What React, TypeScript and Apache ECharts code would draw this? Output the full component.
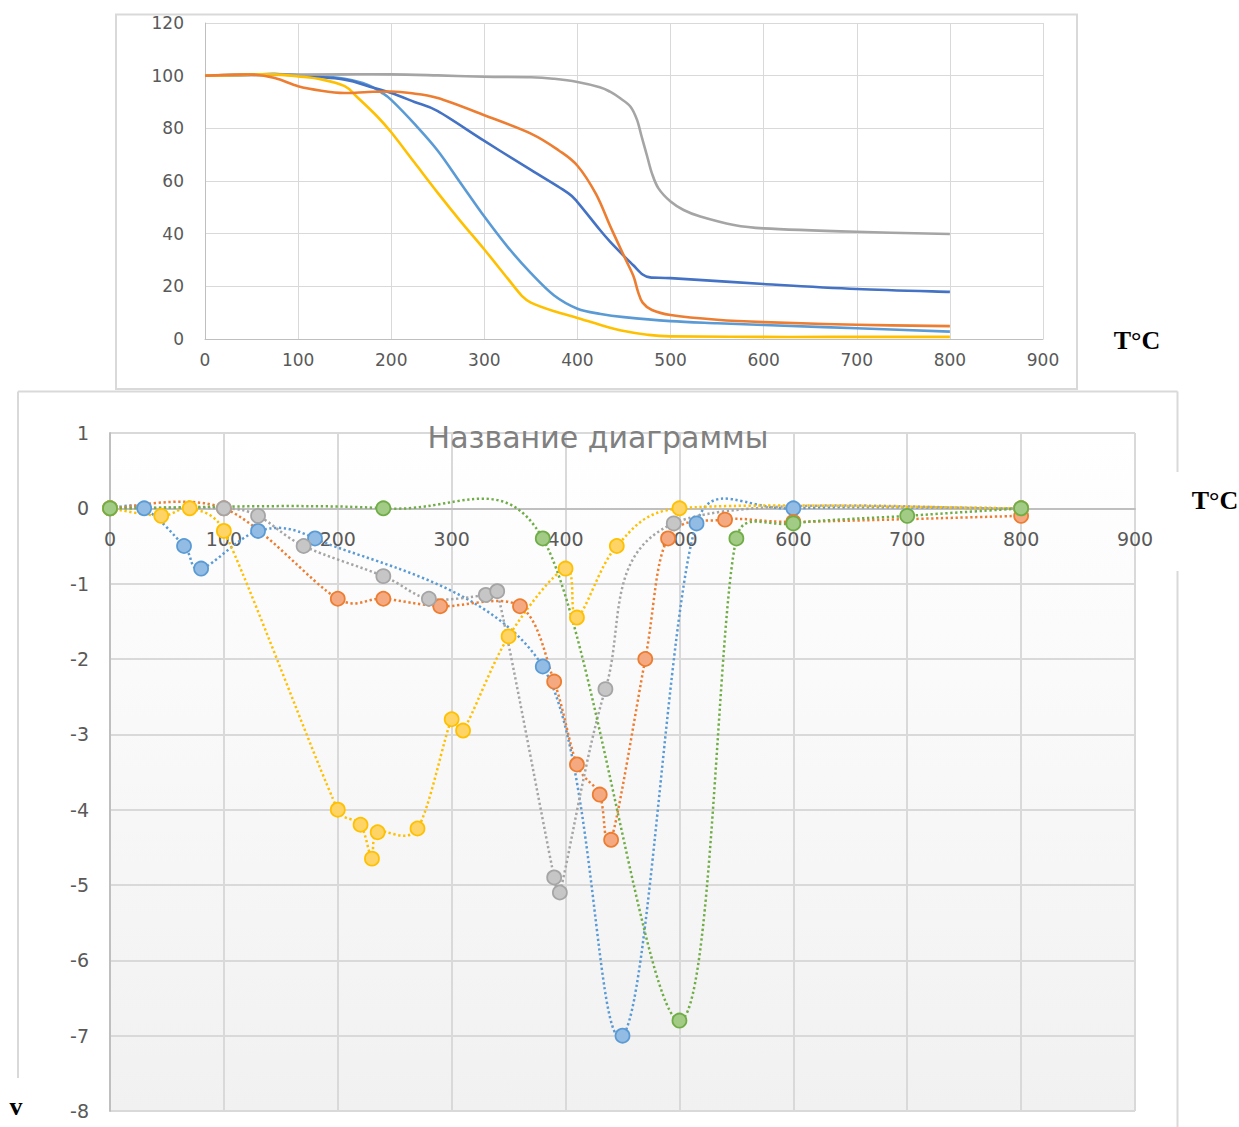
import React, { useEffect, useRef } from "react";
import * as echarts from "echarts";

// ---------- Top chart (TGA, %) ----------
const tgaLightBlueT = [0, 50, 75, 100, 125, 150, 175, 190, 200, 226, 250, 275, 300, 325, 350, 375, 400, 425, 450, 500, 550, 600, 700, 800];
const tgaLightBlueV = [100, 100.4, 100.6, 100.2, 99.6, 98.8, 96.5, 93.5, 90.8, 81.3, 71.5, 59, 46.5, 35, 25, 16.5, 11.5, 9.5, 8.3, 6.8, 6.0, 5.3, 4.1, 2.8];

const tgaDarkBlueT = [0, 50, 75, 100, 150, 177, 200, 225, 250, 300, 350, 390, 400, 424, 435, 450, 460, 470, 478, 500, 600, 700, 800];
const tgaDarkBlueV = [100, 100.4, 100.6, 100.1, 98.5, 95.8, 93.4, 90, 86.5, 75.2, 64.2, 55.4, 52, 41.5, 37, 31.5, 28, 24.5, 23.4, 23.1, 20.9, 19, 17.9];

const tgaOrangeT = [0, 50, 75, 100, 125, 150, 175, 200, 220, 250, 300, 350, 380, 400, 420, 435, 450, 460, 465, 470, 480, 500, 550, 600, 700, 800];
const tgaOrangeV = [100, 100.4, 99.1, 96, 94.3, 93.4, 93.8, 94, 93.4, 91.5, 85, 78, 71.6, 65.8, 55, 43, 31.5, 24, 18, 13.8, 11, 9.1, 7.3, 6.4, 5.4, 4.9];

const tgaGrayT = [0, 50, 100, 150, 200, 250, 300, 350, 375, 400, 424, 435, 446, 457, 464, 469, 475, 480, 487, 500, 514, 532, 568, 600, 700, 800];
const tgaGrayV = [100, 100.2, 100.4, 100.5, 100.5, 100.1, 99.6, 99.4, 98.8, 97.6, 95.6, 93.9, 91.4, 88.2, 83.2, 76.8, 69.2, 62.9, 57.2, 52.2, 49, 46.5, 43.3, 42, 40.7, 39.9];

const tgaYellowT = [0, 50, 75, 100, 125, 150, 163, 185, 200, 225, 250, 275, 300, 325, 340, 350, 375, 400, 425, 450, 475, 500, 600, 700, 800];
const tgaYellowV = [100, 100.4, 100.5, 99.7, 98.6, 96, 92, 84.5, 78.5, 67, 55.5, 44.5, 34, 23, 16.5, 13.8, 10.5, 8, 5.3, 3, 1.6, 1, 0.8, 0.8, 0.8];

// ---------- Bottom chart (DTG) ----------
const dtgBlueT = [0, 30, 65, 80, 130, 180, 380, 450, 515, 600, 800];
const dtgBlueV = [0, 0, -0.5, -0.8, -0.3, -0.4, -2.1, -7.0, -0.2, 0, 0];

const dtgOrangeT = [0, 100, 200, 240, 290, 360, 390, 410, 430, 440, 470, 490, 540, 600, 800];
const dtgOrangeV = [0, 0, -1.2, -1.2, -1.3, -1.3, -2.3, -3.4, -3.8, -4.4, -2.0, -0.4, -0.15, -0.18, -0.1];

const dtgGrayT = [0, 100, 130, 170, 240, 280, 330, 340, 390, 395, 435, 495, 800];
const dtgGrayV = [0, 0, -0.1, -0.5, -0.9, -1.2, -1.15, -1.1, -4.9, -5.1, -2.4, -0.2, 0];

const dtgYellowT = [0, 45, 70, 100, 200, 220, 230, 235, 270, 300, 310, 350, 400, 410, 445, 500, 800];
const dtgYellowV = [0, -0.1, 0, -0.3, -4.0, -4.2, -4.65, -4.3, -4.25, -2.8, -2.95, -1.7, -0.8, -1.45, -0.5, 0, 0];

const dtgGreenT = [0, 240, 380, 500, 550, 600, 700, 800];
const dtgGreenV = [0, 0, -0.4, -6.8, -0.4, -0.2, -0.1, 0];

const xTicks = [0, 100, 200, 300, 400, 500, 600, 700, 800, 900];

const zip = (xs: number[], ys: number[]) => xs.map((x, i) => [x, ys[i]]);

const labelFont = "DejaVu Sans";

// Excel-like smoothing: Bezier handles = (next - prev) / 6, limited to half the segment length.
function smoothPath(pts: number[][]) {
  const n = pts.length;
  let d = `M${pts[0][0]},${pts[0][1]}`;
  const limit = (vx: number, vy: number, maxLen: number) => {
    const len = Math.sqrt(vx * vx + vy * vy);
    if (len > maxLen && len > 0) {
      const k = maxLen / len;
      return [vx * k, vy * k];
    }
    return [vx, vy];
  };
  for (let i = 0; i < n - 1; i++) {
    const p0 = pts[Math.max(0, i - 1)];
    const p1 = pts[i];
    const p2 = pts[i + 1];
    const p3 = pts[Math.min(n - 1, i + 2)];
    const seg = Math.hypot(p2[0] - p1[0], p2[1] - p1[1]);
    const t1 = limit((p2[0] - p0[0]) / 6, (p2[1] - p0[1]) / 6, seg / 2);
    const t2 = limit((p3[0] - p1[0]) / 6, (p3[1] - p1[1]) / 6, seg / 2);
    d += ` C${p1[0] + t1[0]},${p1[1] + t1[1]} ${p2[0] - t2[0]},${p2[1] - t2[1]} ${p2[0]},${p2[1]}`;
  }
  return d;
}

function curveSeries(name: string, axisIndex: number, color: string, xs: number[], ys: number[], dotted: boolean) {
  return {
    name,
    type: "custom",
    xAxisIndex: axisIndex,
    yAxisIndex: axisIndex,
    coordinateSystem: "cartesian2d",
    data: zip(xs, ys),
    encode: { x: 0, y: 1 },
    silent: true,
    renderItem: (params: any, api: any) => {
      if (params.dataIndex !== 0) return null;
      const pts = xs.map((x, i) => api.coord([x, ys[i]]));
      return {
        type: "path",
        shape: { pathData: smoothPath(pts) },
        style: dotted
          ? { fill: "none", stroke: color, lineWidth: 2.5, lineDash: [2.3, 2.6], lineCap: "butt" }
          : { fill: "none", stroke: color, lineWidth: 2.6, lineJoin: "round" },
      };
    },
  };
}

function dtgMarkers(name: string, color: string, fill: string, xs: number[], ys: number[]) {
  return {
    name,
    type: "scatter",
    xAxisIndex: 1,
    yAxisIndex: 1,
    data: zip(xs, ys),
    symbol: "circle",
    symbolSize: 14,
    itemStyle: { color: fill, borderColor: color, borderWidth: 1.8, opacity: 1 },
  };
}

export default function App() {
  const ref = useRef<HTMLDivElement>(null);
  useEffect(() => {
    if (!ref.current) return;
    const chart = echarts.init(ref.current, null, { renderer: "svg" });
    const gradient = new echarts.graphic.LinearGradient(0, 0, 0, 1, [
      { offset: 0, color: "#ffffff" },
      { offset: 1, color: "#f1f1f1" },
    ]);
    const dtgDefs = [
      { n: "1", c: "#5b9bd5", f: "#93bce4", x: dtgBlueT, y: dtgBlueV },
      { n: "2", c: "#ed7d31", f: "#f4a981", x: dtgOrangeT, y: dtgOrangeV },
      { n: "3", c: "#a5a5a5", f: "#c6c6c6", x: dtgGrayT, y: dtgGrayV },
      { n: "4", c: "#ffc000", f: "#ffd466", x: dtgYellowT, y: dtgYellowV },
      { n: "5", c: "#70ad47", f: "#a2cb86", x: dtgGreenT, y: dtgGreenV },
    ];
    const dtgSeries: any[] = [];
    dtgDefs.forEach((s) => {
      dtgSeries.push(curveSeries(s.n + " curve", 1, s.c, s.x, s.y, true));
      dtgSeries.push(dtgMarkers(s.n, s.c, s.f, s.x, s.y));
    });
    const bottomTop = 433;
    const bottomH = 678;
    const zeroOffset = -(bottomH * (8 / 9));
    const option: any = {
      animation: false,
      backgroundColor: "#ffffff",
      grid: [
        { left: 205, top: 23, width: 838, height: 316, outerBoundsMode: "none", containLabel: false },
        {
          left: 110,
          top: bottomTop,
          width: 1025,
          height: bottomH,
          show: true,
          backgroundColor: gradient,
          borderWidth: 0,
          outerBoundsMode: "none",
          containLabel: false,
        },
      ],
      xAxis: [
        {
          gridIndex: 0,
          type: "value",
          min: xTicks[0],
          max: xTicks[xTicks.length - 1],
          interval: 100,
          axisLine: { show: true, lineStyle: { color: "#bfbfbf", width: 1 } },
          axisTick: { show: false },
          splitLine: { show: true, lineStyle: { color: "#d9d9d9", width: 1 } },
          axisLabel: { color: "#595959", fontSize: 17, fontFamily: labelFont, margin: 12 },
        },
        {
          gridIndex: 1,
          type: "value",
          min: xTicks[0],
          max: xTicks[xTicks.length - 1],
          interval: 100,
          offset: zeroOffset,
          axisLine: { show: true, onZero: false, lineStyle: { color: "#bfbfbf", width: 2 } },
          axisTick: { show: false },
          splitLine: { show: true, lineStyle: { color: "#d9d9d9", width: 2 } },
          axisLabel: { color: "#595959", fontSize: 19, fontFamily: labelFont, margin: 21 },
        },
      ],
      yAxis: [
        {
          gridIndex: 0,
          type: "value",
          min: 0,
          max: 120,
          interval: 20,
          axisLine: { show: true, lineStyle: { color: "#bfbfbf", width: 1 } },
          axisTick: { show: false },
          splitLine: { show: true, lineStyle: { color: "#d9d9d9", width: 1 } },
          axisLabel: { color: "#595959", fontSize: 17, fontFamily: labelFont, margin: 21 },
        },
        {
          gridIndex: 1,
          type: "value",
          min: -8,
          max: 1,
          interval: 1,
          axisLine: { show: true, lineStyle: { color: "#bfbfbf", width: 2 } },
          axisTick: { show: false },
          splitLine: { show: true, lineStyle: { color: "#d9d9d9", width: 2 } },
          axisLabel: { color: "#595959", fontSize: 19, fontFamily: labelFont, margin: 21 },
        },
      ],
      series: [
        curveSeries("A", 0, "#5b9bd5", tgaLightBlueT, tgaLightBlueV, false),
        curveSeries("B", 0, "#4472c4", tgaDarkBlueT, tgaDarkBlueV, false),
        curveSeries("C", 0, "#a5a5a5", tgaGrayT, tgaGrayV, false),
        curveSeries("D", 0, "#ffc000", tgaYellowT, tgaYellowV, false),
        curveSeries("E", 0, "#ed7d31", tgaOrangeT, tgaOrangeV, false),
        ...dtgSeries,
      ],
      graphic: [
        {
          type: "rect",
          z: 100,
          silent: true,
          shape: { x: 116, y: 14.5, width: 961, height: 374.5 },
          style: { fill: "none", stroke: "#d9d9d9", lineWidth: 2 },
        },
        { type: "line", z: 100, silent: true, shape: { x1: 18, y1: 391.5, x2: 1177.5, y2: 391.5 }, style: { stroke: "#d9d9d9", lineWidth: 2 } },
        { type: "line", z: 100, silent: true, shape: { x1: 18, y1: 391.5, x2: 18, y2: 1078 }, style: { stroke: "#d9d9d9", lineWidth: 2 } },
        { type: "line", z: 100, silent: true, shape: { x1: 1177.5, y1: 391.5, x2: 1177.5, y2: 472 }, style: { stroke: "#d9d9d9", lineWidth: 2 } },
        { type: "line", z: 100, silent: true, shape: { x1: 1177.5, y1: 571, x2: 1177.5, y2: 1127 }, style: { stroke: "#d9d9d9", lineWidth: 2 } },
        {
          type: "text",
          z: 100,
          x: 598,
          y: 437,
          style: { text: "Название диаграммы", fill: "#808080", font: '30px "DejaVu Sans"', align: "center", verticalAlign: "middle" },
        },
        {
          type: "text",
          z: 100,
          x: 1137,
          y: 340,
          style: { text: "T°C", fill: "#000000", font: 'bold 26px "Liberation Serif"', align: "center", verticalAlign: "middle" },
        },
        {
          type: "text",
          z: 100,
          x: 1215,
          y: 500,
          style: { text: "T°C", fill: "#000000", font: 'bold 26px "Liberation Serif"', align: "center", verticalAlign: "middle" },
        },
        {
          type: "text",
          z: 100,
          x: 16,
          y: 1106,
          style: { text: "v", fill: "#000000", font: 'bold 26px "Liberation Serif"', align: "center", verticalAlign: "middle" },
        },
      ],
    };
    chart.setOption(option);
    return () => chart.dispose();
  }, []);
  return (
    <div
      ref={ref}
      style={{ position: "absolute", left: 0, top: 0, width: 1239, height: 1127 }}
    />
  );
}
